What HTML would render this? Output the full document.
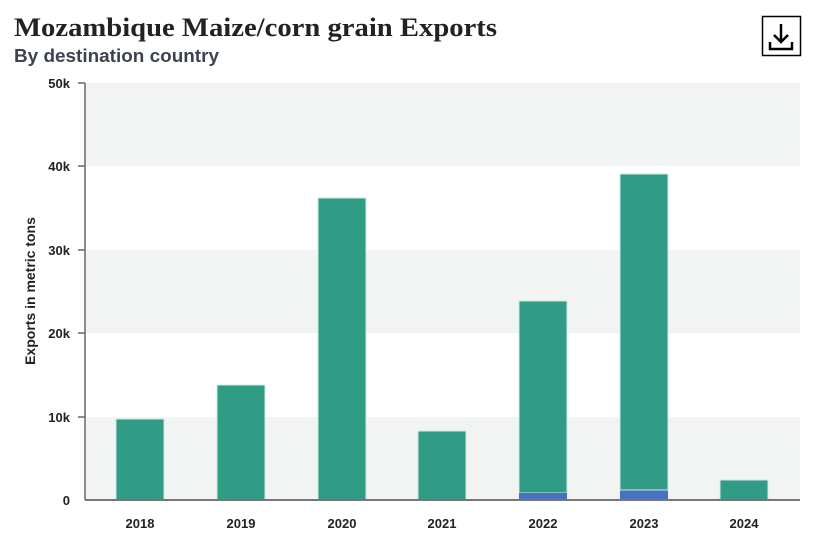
<!DOCTYPE html>
<html><head><meta charset="utf-8"><style>
body{margin:0;background:#fff;width:816px;height:544px;overflow:hidden}
svg{display:block}
</style></head><body>
<svg width="816" height="544" xmlns="http://www.w3.org/2000/svg">
<text x="14" y="36" font-family="Liberation Serif, serif" font-weight="bold" font-size="26" fill="#222" textLength="483" lengthAdjust="spacingAndGlyphs">Mozambique Maize/corn grain Exports</text>
<text x="14" y="62" font-family="Liberation Sans, sans-serif" font-weight="bold" font-size="18" fill="#3a4450" textLength="205" lengthAdjust="spacingAndGlyphs">By destination country</text>
<rect x="762.5" y="16.5" width="38" height="39" fill="#fff" stroke="#000" stroke-width="1.5"/>
<path d="M781 24v18M774 35l7 7 7-7M770 42v7h22v-7" fill="none" stroke="#000" stroke-width="2.5"/>
<rect x="85" y="83" width="715" height="83" fill="#f2f4f3"/>
<rect x="85" y="250" width="715" height="83" fill="#f2f4f3"/>
<rect x="85" y="417" width="715" height="83" fill="#f2f4f3"/>
<g font-family="Liberation Sans, sans-serif" font-weight="bold" font-size="13" fill="#222" text-anchor="end">
<text x="70" y="88">50k</text><text x="70" y="171">40k</text><text x="70" y="255">30k</text><text x="70" y="338">20k</text><text x="70" y="422">10k</text><text x="70" y="505">0</text>
</g>
<g stroke="#666" stroke-width="1.5">
<line x1="85" y1="83" x2="85" y2="500"/>
<line x1="78" y1="83" x2="85" y2="83"/><line x1="78" y1="166" x2="85" y2="166"/><line x1="78" y1="250" x2="85" y2="250"/><line x1="78" y1="333" x2="85" y2="333"/><line x1="78" y1="417" x2="85" y2="417"/>
</g>
<text transform="translate(35,291) rotate(-90)" font-family="Liberation Sans, sans-serif" font-weight="bold" font-size="14" fill="#222" text-anchor="middle">Exports in metric tons</text>
<g fill="#319c86" stroke="#cfe8e0" stroke-width="1">
<rect x="116" y="419" width="48" height="81"/>
<rect x="217" y="385" width="48" height="115"/>
<rect x="318" y="198" width="48" height="302"/>
<rect x="418" y="431" width="48" height="69"/>
<rect x="519" y="301" width="48" height="192"/>
<rect x="620" y="174" width="48" height="316"/>
<rect x="720" y="480" width="48" height="20"/>
</g>
<rect x="519" y="493" width="48" height="7" fill="#4671c3"/>
<rect x="620" y="490.5" width="48" height="9.5" fill="#4671c3"/>
<line x1="85" y1="500" x2="800" y2="500" stroke="#777" stroke-width="2"/>
<g font-family="Liberation Sans, sans-serif" font-weight="bold" font-size="13" fill="#222" text-anchor="middle">
<text x="140" y="528">2018</text><text x="241" y="528">2019</text><text x="342" y="528">2020</text><text x="442" y="528">2021</text><text x="543" y="528">2022</text><text x="644" y="528">2023</text><text x="744" y="528">2024</text>
</g>
</svg>
</body></html>
